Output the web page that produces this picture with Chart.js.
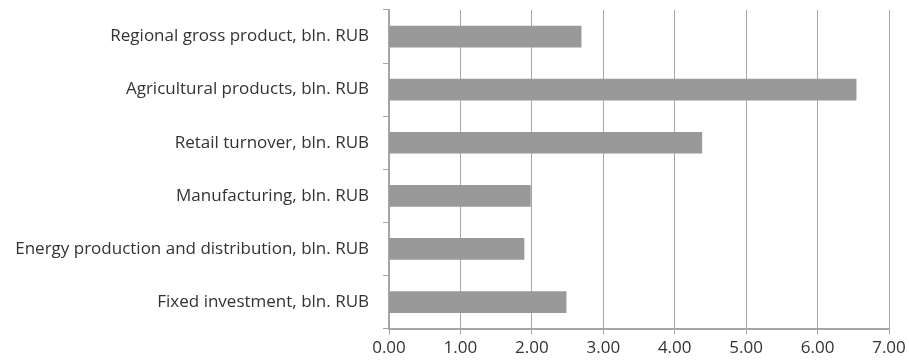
<!DOCTYPE html>
<html>
<head>
<meta charset="utf-8">
<script src="https://cdn.jsdelivr.net/npm/chart.js@4/dist/chart.umd.min.js"></script>
<style>
  html, body { margin: 0; padding: 0; background: #fff; }
  #wrap { width: 909px; height: 363px; }
</style>
</head>
<body>
<div id="wrap"><canvas id="chart"></canvas></div>
<script>
// values
const categories = [
    'Regional gross product, bln. RUB',
    'Agricultural products, bln. RUB',
    'Retail turnover, bln. RUB',
    'Manufacturing, bln. RUB',
    'Energy production and distribution, bln. RUB',
    'Fixed investment, bln. RUB'
];
const values = [2.69, 6.54, 4.38, 1.98, 1.89, 2.48];
const axisMin = 0;
const axisMax = 7;
const axisStep = 1;

const gridColor = '#a6a6a6';
const textColor = '#333333';

Chart.defaults.font.family = '"Open Sans", sans-serif';
Chart.defaults.font.size = 17;
Chart.defaults.color = textColor;

const ctx = document.getElementById('chart').getContext('2d');
const chart = new Chart(ctx, {
    type: 'bar',
    data: {
        labels: categories,
        datasets: [{
            data: values,
            backgroundColor: '#999999',
            borderWidth: 0,
            barThickness: 21
        }]
    },
    options: {
        indexAxis: 'y',
        responsive: true,
        maintainAspectRatio: false,
        animation: false,
        layout: { padding: { top: 10, right: 20, left: 0, bottom: 2 } },
        plugins: {
            legend: { display: false },
            tooltip: { enabled: false }
        },
        scales: {
            x: {
                min: axisMin,
                max: axisMax,
                ticks: {
                    stepSize: axisStep,
                    padding: 3,
                    callback: v => v.toFixed(2)
                },
                grid: {
                    color: gridColor,
                    lineWidth: 1,
                    tickLength: 6
                },
                border: { color: gridColor, width: 2 }
            },
            y: {
                afterFit: scale => {
                    scale.width = 389;
                    scale.paddingTop = 0;
                    scale.paddingBottom = 0;
                },
                ticks: { padding: 14 },
                grid: {
                    drawOnChartArea: false,
                    color: gridColor,
                    tickLength: 6,
                    offset: true
                },
                border: { color: gridColor, width: 2 }
            }
        }
    }
});
</script>
</body>
</html>
